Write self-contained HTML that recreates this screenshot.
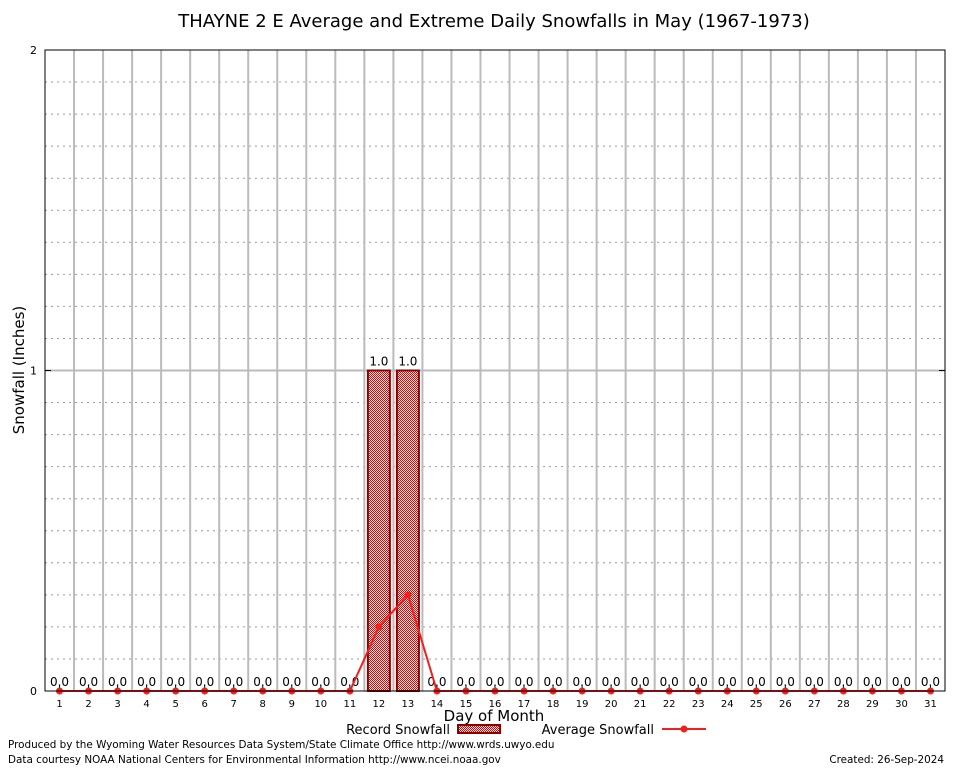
<!DOCTYPE html>
<html><head><meta charset="utf-8"><style>
body{margin:0;background:#fff;font-family:"DejaVu Sans","Liberation Sans",sans-serif;}
svg text{font-family:"DejaVu Sans","Liberation Sans",sans-serif;}
</style></head><body>
<svg id="c" width="954" height="768" xmlns="http://www.w3.org/2000/svg">
<defs>
<pattern id="chk" width="2" height="2" patternUnits="userSpaceOnUse">
<rect width="2" height="2" fill="#fff"/><rect width="1" height="1" fill="#b01818"/><rect x="1" y="1" width="1" height="1" fill="#b01818"/>
</pattern>
</defs>
<rect width="954" height="768" fill="#fff"/>
<text x="494" y="27" font-size="18" text-anchor="middle">THAYNE 2 E Average and Extreme Daily Snowfalls in May (1967-1973)</text>
<g id="grid"></g>
<g id="marks"></g>
<rect x="45" y="50" width="900" height="641" fill="none" stroke="#000" stroke-width="1"/>
<text transform="translate(24,370) rotate(-90)" font-size="15" text-anchor="middle">Snowfall (Inches)</text>
<text x="494" y="721" font-size="15" text-anchor="middle">Day of Month</text>
<g>
<text x="450" y="734" font-size="13" text-anchor="end">Record Snowfall</text>
<rect x="458" y="725" width="42" height="8" fill="url(#chk)" stroke="#8b0000" stroke-width="2"/>
</g>
<g>
<text x="654" y="734" font-size="13" text-anchor="end">Average Snowfall</text>
<line x1="662" y1="729" x2="706" y2="729" stroke="#ee2020" stroke-width="2"/>
<circle cx="684" cy="729" r="3.5" fill="#ee2020"/>
</g>
<text x="8" y="748" font-size="10.4">Produced by the Wyoming Water Resources Data System/State Climate Office http://www.wrds.uwyo.edu</text>
<text x="8" y="763" font-size="10.4">Data courtesy NOAA National Centers for Environmental Information http://www.ncei.noaa.gov</text>
<text x="944" y="763" font-size="10.4" text-anchor="end">Created: 26-Sep-2024</text>
</svg>
<script>
const days=[1,2,3,4,5,6,7,8,9,10,11,12,13,14,15,16,17,18,19,20,21,22,23,24,25,26,27,28,29,30,31];
const recordVals=[0,0,0,0,0,0,0,0,0,0,0,1.0,1.0,0,0,0,0,0,0,0,0,0,0,0,0,0,0,0,0,0,0];
const avgVals=[0,0,0,0,0,0,0,0,0,0,0,0.2,0.3,0,0,0,0,0,0,0,0,0,0,0,0,0,0,0,0,0,0];
const yTicks=[0,1,2];
const NS='http://www.w3.org/2000/svg';
const L=45,R=945,T=50,B=691,yMax=2;
const bw=(R-L)/days.length;
const xs=d=>L+bw*(d-0.5);
const ys=v=>B-(v/yMax)*(B-T);
function mk(tag,at,p){const e=document.createElementNS(NS,tag);for(const k in at)e.setAttribute(k,at[k]);p.appendChild(e);return e;}
const g=document.getElementById('grid'),m=document.getElementById('marks');
for(let i=1;i<20;i++){if(i%10===0)continue;const y=ys(i*0.1);
const l=mk('line',{x1:L,x2:R,y1:y,y2:y,stroke:'#999','stroke-dasharray':'2,4','stroke-width':1},g);

}
for(let i=1;i<days.length;i++){const x=L+bw*i;
const l=mk('line',{x1:x,x2:x,y1:T,y2:B,stroke:'#bbb','stroke-width':2},g);

}
yTicks.forEach(v=>{const y=ys(v);
if(v>0&&v<yMax){const l=mk('line',{x1:L,x2:R,y1:y,y2:y,stroke:'#bbb','stroke-width':2},g);

}
mk('line',{x1:L,x2:L+6,y1:y,y2:y,stroke:'#000'},g);mk('line',{x1:R-6,x2:R,y1:y,y2:y,stroke:'#000'},g);
const t=mk('text',{x:L-8,y:y+4,'font-size':11,'text-anchor':'end'},g);t.textContent=v;

});
days.forEach((d,i)=>{const x=xs(d);
mk('line',{x1:x,x2:x,y1:B,y2:B-5,stroke:'#000'},g);
const t=mk('text',{x:x,y:B+16,'font-size':10,'text-anchor':'middle','font-family':'Liberation Serif,serif'},g);t.textContent=d;


const v=recordVals[i];
if(v>0){const r=mk('rect',{x:x-11,y:ys(v),width:22,height:B-ys(v),fill:'url(#chk)',stroke:'#8b0000','stroke-width':2},m);

}
const lt=mk('text',{x:x,y:ys(v)-5,'font-size':12,'text-anchor':'middle'},m);lt.textContent=v.toFixed(1);

});
const pts=days.map((d,i)=>xs(d)+','+ys(avgVals[i])).join(' ');
const pl=mk('polyline',{points:pts,fill:'none',stroke:'#ee2020','stroke-width':2},m);


days.forEach((d,i)=>{const c=mk('circle',{cx:xs(d),cy:ys(avgVals[i]),r:3.5,fill:'#ee2020'},m);

});
</script>
</body></html>
